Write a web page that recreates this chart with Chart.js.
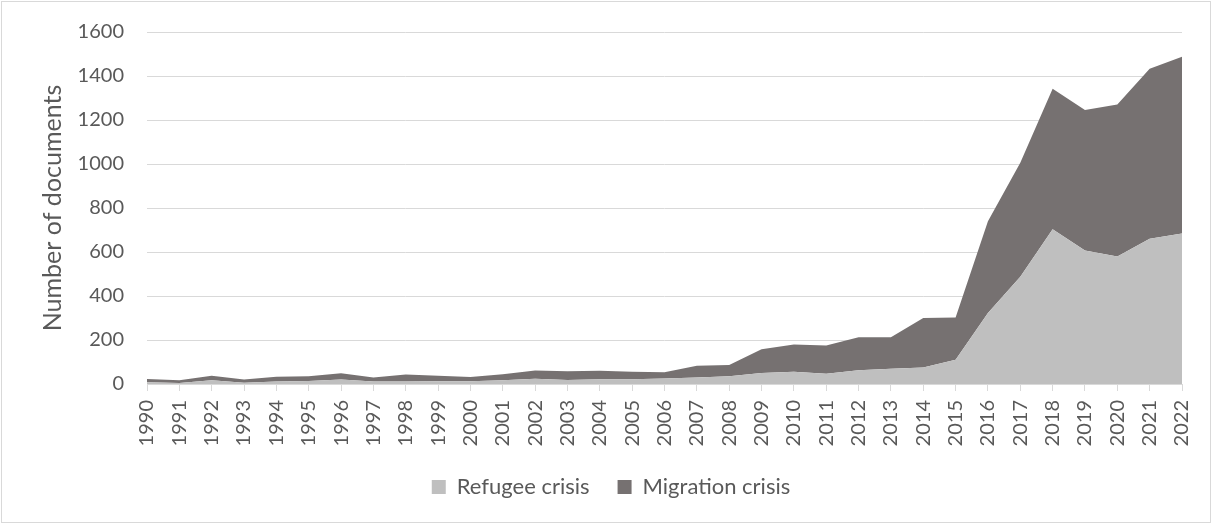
<!DOCTYPE html>
<html>
<head>
<meta charset="utf-8">
<script src="https://cdn.jsdelivr.net/npm/chart.js@4"></script>
<style>
  html, body { margin: 0; padding: 0; background: #fff; }
  #wrap { position: absolute; left: 1px; top: 1px; width: 1208px; height: 520px; border: 1px solid #d9d9d9; background: #fff; }
  canvas { position: absolute; left: 0; top: 0; }
</style>
</head>
<body>
<div id="wrap"><canvas id="c" width="1208" height="520"></canvas></div>
<script>
const years = ['1990','1991','1992','1993','1994','1995','1996','1997','1998','1999','2000','2001','2002','2003','2004','2005','2006','2007','2008','2009','2010','2011','2012','2013','2014','2015','2016','2017','2018','2019','2020','2021','2022'];
const refugeeCrisis = [8,5,17,6,11,14,20,11,11,12,12,17,24,18,22,22,25,30,35,50,56,47,62,69,75,110,323,488,703,607,580,660,684];
const migrationCrisis = [15,12,21,15,22,21,29,18,32,26,20,27,37,40,38,34,28,53,51,108,124,128,150,143,225,192,417,518,639,638,690,773,803];
const yTicks = [0,200,400,600,800,1000,1200,1400,1600];

const FONT = "Lato, 'Open Sans', 'Liberation Sans', sans-serif";
const TXT = '#595959';

new Chart(document.getElementById('c'), {
  type: 'line',
  data: {
    labels: years,
    datasets: [
      { label: 'Refugee crisis', data: refugeeCrisis, backgroundColor: '#bfbfbf', borderColor: '#bfbfbf', borderWidth: 0, pointRadius: 0, fill: 'origin', tension: 0 },
      { label: 'Migration crisis', data: migrationCrisis, backgroundColor: '#767171', borderColor: '#767171', borderWidth: 0, pointRadius: 0, fill: '-1', tension: 0 }
    ]
  },
  options: {
    responsive: false,
    animation: false,
    layout: { padding: { left: 10, right: 0, top: 30, bottom: 14 } },
    plugins: {
      legend: {
        position: 'bottom',
        labels: { font: { family: FONT, size: 22 }, color: TXT, boxWidth: 14, boxHeight: 14, padding: 28 }
      },
      tooltip: { enabled: false }
    },
    scales: {
      x: {
        offset: false,
        grid: { display: true, drawOnChartArea: false, drawTicks: true, tickLength: 7, color: '#d9d9d9' },
        border: { color: '#d9d9d9', width: 1 },
        ticks: { color: TXT, font: { family: FONT, size: 20 }, minRotation: 90, maxRotation: 90, autoSkip: false, padding: 9 },
        afterFit: (s) => { s.height = 64; s.paddingRight = 28; }
      },
      y: {
        stacked: true,
        min: 0, max: 1600,
        afterBuildTicks: (s) => { s.ticks = yTicks.map(v => ({ value: v })); },
        grid: { color: '#d9d9d9', drawTicks: false, lineWidth: 1 },
        border: { display: false },
        ticks: { color: TXT, font: { family: FONT, size: 20 }, padding: 23, callback: (v) => String(v) },
        title: { display: true, text: 'Number of documents', color: TXT, font: { family: FONT, size: 25 }, padding: { top: 26, bottom: 0 } },
        afterFit: (s) => { s.width = 135; s.paddingTop = 0; s.paddingBottom = 0; }
      }
    }
  }
});
</script>
</body>
</html>
